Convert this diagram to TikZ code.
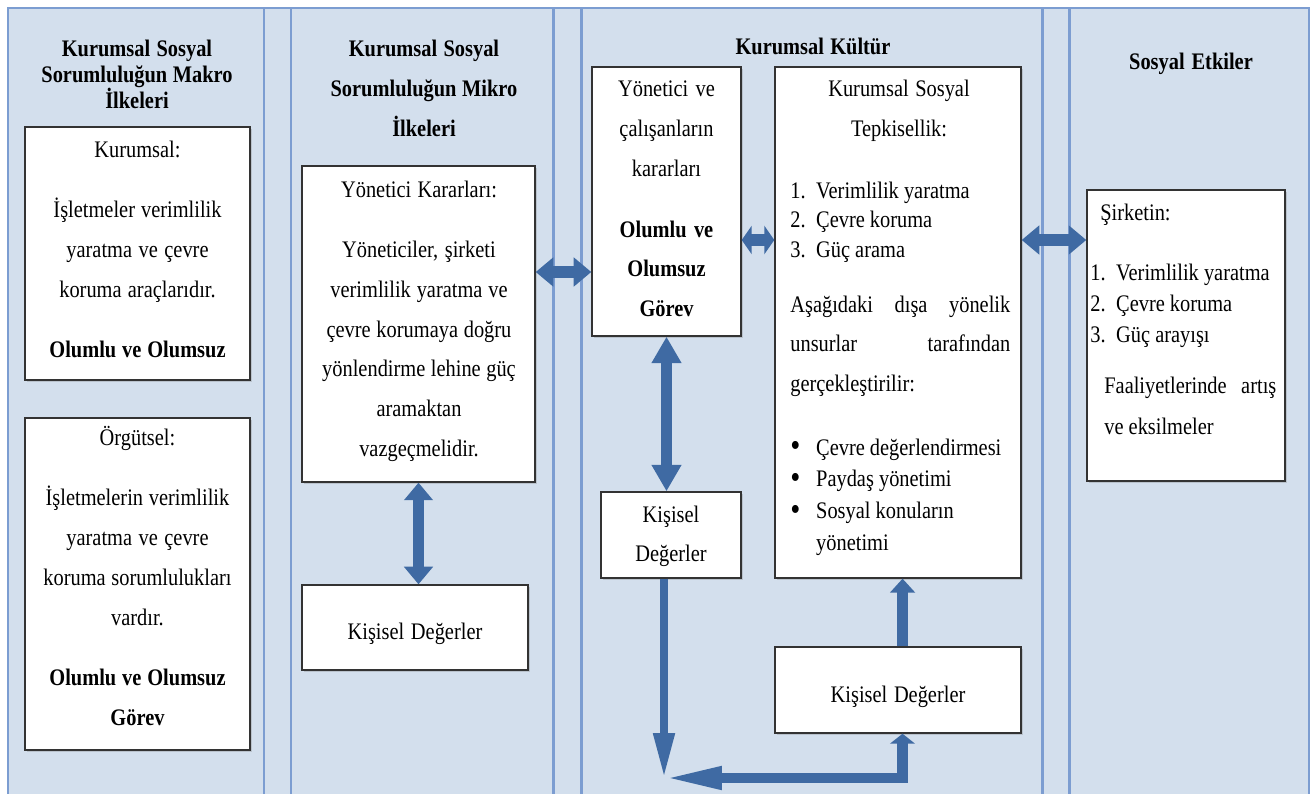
\documentclass[tikz,border=0pt]{standalone}
\usepackage{fontspec}
\setmainfont{Liberation Serif}[FakeStretch=0.86]
\usetikzlibrary{arrows.meta,shadows}

\definecolor{panelblue}{HTML}{D3DFED}
\definecolor{ruleblue}{HTML}{7C9DD1}
\definecolor{arrowblue}{HTML}{3F6AA3}

\newcommand{\setbody}[1]{\fontsize{13.5}{#1}\selectfont}
\newcommand{\bodyfont}{\setbody{22.7}}
\newcommand{\listno}[1]{\makebox[14.7pt][l]{#1}}
\newcommand{\bigdot}{\raisebox{-1pt}{\fontsize{19}{19}\selectfont\textbullet}}

\tikzset{
  box/.style = {draw = black!80, line width = .8pt, fill = white,
    drop shadow = {shadow xshift = .9pt, shadow yshift = -.9pt, opacity = .3}},
  tight/.style = {execute at begin node = {\spaceskip=2.9pt plus 1pt minus .5pt\relax}},
  txt/.style = {font = \bodyfont, align = center, text width = 4.4cm,
    inner sep = 0pt, anchor = base, tight},
  lefttxt/.style = {font = \bodyfont, align = left, text width = #1,
    inner sep = 0pt, anchor = base west, tight},
  lefttxt/.default = 4.4cm,
  heading/.style = {txt, font = \bfseries\bodyfont},
  dblarr/.style = {draw = arrowblue, line width = 6.3pt,
    {Triangle[length = #1, width = 16pt]}-{Triangle[length = #1, width = 16pt]}},
  dblarr/.default = 10pt,
  arr/.style = {draw = arrowblue, line width = 6pt,
    -{Triangle[length = #1, width = 14pt]}},
  arr/.default = 8pt
}

\begin{document}
\begin{tikzpicture}[x = 0.02cm, y = -0.02cm]
  \useasboundingbox (0,0) rectangle (1315,794);

  % draws the columns
  \fill[panelblue] (8,8) rectangle (1309,794);
  \draw[ruleblue, line width = 1.4pt]
    (8,794) -- (8,8) -- (1309,8) -- (1309,794);
  \foreach \x in {264, 291, 553.5, 581.5, 1042.5, 1069.5}
    \draw[ruleblue, line width = 1.4pt] (\x,8) -- (\x,794);

  % draws the column headings
  \node[heading, font = \bfseries\setbody{14.7}] (makro) at (137,57)
    {Kurumsal Sosyal\\ Sorumluluğun Makro\\ İlkeleri};
  \node[heading] (mikro) at (424,57)
    {Kurumsal Sosyal\\ Sorumluluğun Mikro\\ İlkeleri};
  \node[heading] (kultur) at (813,55) {Kurumsal Kültür};
  \node[heading] (etkiler) at (1191,70) {Sosyal Etkiler};

  % draws the boxes
  \node[box, minimum width = 4.5cm, minimum height = 5.06cm] (kurumsal) at (137.5,253.5) {};
  \node[box, minimum width = 4.5cm, minimum height = 6.64cm] (orgutsel) at (137.5,584) {};
  \node[box, minimum width = 4.66cm, minimum height = 6.32cm] (yonkarar) at (418.5,324) {};
  \node[box, minimum width = 4.52cm, minimum height = 1.7cm] (kisisel1) at (415,627.5) {};
  \node[box, minimum width = 2.98cm, minimum height = 5.38cm] (calisan) at (666.5,201.5) {};
  \node[box, minimum width = 4.92cm, minimum height = 10.22cm] (tepki) at (898,322.5) {};
  \node[box, minimum width = 2.8cm, minimum height = 1.72cm] (kisisel2) at (671,535) {};
  \node[box, minimum width = 4.92cm, minimum height = 1.72cm] (kisisel3) at (898,690) {};
  \node[box, minimum width = 3.96cm, minimum height = 5.82cm] (sirket) at (1186,335.5) {};

  % writes the box texts
  \node[txt] (kurumsal-t) at (137.5,157)
    {Kurumsal:\\[11.6pt] İşletmeler verimlilik\\ yaratma ve çevre\\
     koruma araçlarıdır.\\[11.6pt] \textbf{Olumlu ve Olumsuz}};
  \node[txt] (orgutsel-t) at (137.5,445)
    {Örgütsel:\\[12pt] İşletmelerin verimlilik\\ yaratma ve çevre\\
     koruma sorumlulukları\\ vardır.\\[11.6pt] \textbf{Olumlu ve Olumsuz}\\ \textbf{Görev}};
  \node[txt] (yonkarar-t) at (419,197)
    {Yönetici Kararları:\\[11.6pt] Yöneticiler, şirketi\\ verimlilik yaratma ve\\
     çevre korumaya doğru\\ yönlendirme lehine güç\\ aramaktan\\ vazgeçmelidir.};
  \node[txt] (kisisel1-t) at (415,639) {Kişisel Değerler};
  \node[txt] (calisan-t) at (666.5,97)
    {Yönetici ve\\ çalışanların\\ kararları\\[11.6pt]
     \textbf{Olumlu ve}\\ \textbf{Olumsuz}\\ \textbf{Görev}};
  \node[txt] (tepki-t) at (899,97) {Kurumsal Sosyal\\ Tepkisellik:};
  \node[lefttxt, font = \setbody{17}] (tepki-list) at (790,198)
    {\listno{1.}Verimlilik yaratma\\ \listno{2.}Çevre koruma\\ \listno{3.}Güç arama};
  \node[lefttxt] (tepki-para) at (790,312)
    {Aşağıdaki \hfill dışa \hfill yönelik\\ unsurlar \hfill tarafından\\ gerçekleştirilir:};
  \node[lefttxt, font = \setbody{18.1}] (tepki-bul) at (790,455)
    {\listno{\bigdot}Çevre değerlendirmesi\\ \listno{\bigdot}Paydaş yönetimi\\
     \listno{\bigdot}Sosyal konuların\\ \listno{}yönetimi};
  \node[txt] (kisisel2-t) at (671,522) {Kişisel\\ Değerler};
  \node[txt] (kisisel3-t) at (898,702) {Kişisel Değerler};
  \node[lefttxt] (sirket-t) at (1100,220) {Şirketin:};
  \node[lefttxt, font = \setbody{17.9}] (sirket-list) at (1090,280)
    {\listno{1.}Verimlilik yaratma\\ \listno{2.}Çevre koruma\\ \listno{3.}Güç arayışı};
  \node[lefttxt = 3.44cm, font = \setbody{23.8}] (sirket-para) at (1104,393)
    {Faaliyetlerinde \hfill artış\\ ve eksilmeler};

  % draws the arrows
  \coordinate (lvlA) at (0,272);
  \coordinate (lvlB) at (0,240);
  \coordinate (loopL) at (664,778);
  \coordinate (loopR) at (902.5,778);

  \draw[dblarr] (yonkarar.south) -- (yonkarar.south |- kisisel1.north);
  \draw[dblarr] (yonkarar.east |- lvlA) -- (calisan.west |- lvlA);
  \draw[dblarr = 5.7pt] (calisan.east |- lvlB) -- (tepki.west |- lvlB);
  \draw[dblarr] (tepki.east |- lvlB) -- (sirket.west |- lvlB);
  \draw[dblarr = 15pt] (calisan.south) -- (calisan.south |- kisisel2.north);
  \draw[arr, line width = 4.5pt, -{Triangle[length = 25.5pt, width = 11.3pt]}]
    (kisisel2.south -| loopL) -- (loopL);
  \draw[arr = 5.7pt] (loopR) -- (loopR |- kisisel3.south);
  \draw[arr, line width = 5.7pt, -{Triangle[length = 33pt, width = 12pt]}]
    ([xshift = 3.1pt]loopR) -- (loopL);
  \draw[arr] ([xshift = 2.6pt]kisisel3.north) -- ([xshift = 2.6pt]kisisel3.north |- tepki.south);
\end{tikzpicture}
\end{document}
